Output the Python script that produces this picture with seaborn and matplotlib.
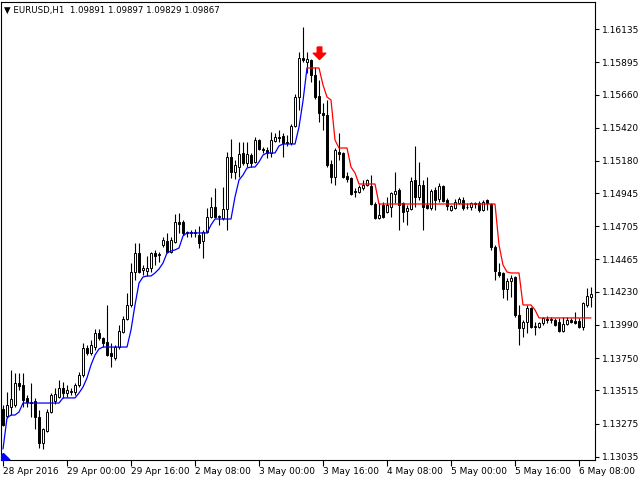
import pandas as pd
import seaborn as sns
import matplotlib.pyplot as plt
from matplotlib.path import Path

sns.set_theme(style="white")
plt.rcParams["font.family"] = ["DejaVu Sans"]

# EURUSD H1 candles, 28 Apr 2016 08:00 .. 6 May 2016 11:00
open_ = [
    1.13381, 1.13330, 1.13395, 1.13410, 1.13569, 1.13555, 1.13461, 1.13432, 1.13439, 1.13323,
    1.13134, 1.13221, 1.13359, 1.13439, 1.13468, 1.13533, 1.13497, 1.13504, 1.13504, 1.13555,
    1.13627, 1.13823, 1.13787, 1.13830, 1.13932, 1.13896, 1.13867, 1.13787, 1.13751, 1.13830,
    1.13939, 1.14033, 1.14135, 1.14374, 1.14512, 1.14389, 1.14381, 1.14403, 1.14512, 1.14497,
    1.14570, 1.14599, 1.14519, 1.14592, 1.14737, 1.14737, 1.14657, 1.14664, 1.14657, 1.14642,
    1.14599, 1.14664, 1.14773, 1.14845, 1.14773, 1.14766, 1.14831, 1.15208, 1.15099, 1.15135,
    1.15237, 1.15164, 1.15222, 1.15172, 1.15331, 1.15266, 1.15259, 1.15237, 1.15324, 1.15353,
    1.15360, 1.15309, 1.15309, 1.15433, 1.15643, 1.15926, 1.15897, 1.15911, 1.15802, 1.15650,
    1.15527, 1.15512, 1.15157, 1.15063, 1.15244, 1.15237, 1.15070, 1.15056, 1.14961, 1.14954,
    1.14983, 1.15005, 1.14998, 1.14867, 1.14766, 1.14860, 1.14809, 1.14845, 1.14940, 1.14969,
    1.14874, 1.14816, 1.14831, 1.15041, 1.14918, 1.15005, 1.14860, 1.14838, 1.14969, 1.14903,
    1.14998, 1.14896, 1.14824, 1.14838, 1.14874, 1.14896, 1.14845, 1.14845, 1.14874, 1.14874,
    1.14824, 1.14896, 1.14867, 1.14555, 1.14374, 1.14367, 1.14251, 1.14309, 1.14338, 1.14062,
    1.13968, 1.14012, 1.14113, 1.13975, 1.13975, 1.14004, 1.14033, 1.14026, 1.14026, 1.14012,
    1.13946, 1.13997, 1.14026, 1.14019, 1.14019, 1.13975, 1.14135, 1.14193,
]
high = [
    1.13410, 1.13504, 1.13664, 1.13642, 1.13642, 1.13642, 1.13482, 1.13569, 1.13461, 1.13374,
    1.13243, 1.13381, 1.13497, 1.13533, 1.13591, 1.13577, 1.13555, 1.13533, 1.13569, 1.13649,
    1.13859, 1.13845, 1.13881, 1.13961, 1.13961, 1.13903, 1.14135, 1.13859, 1.13845, 1.13990,
    1.14055, 1.14222, 1.14439, 1.14584, 1.14584, 1.14425, 1.14490, 1.14519, 1.14534, 1.14519,
    1.14628, 1.14657, 1.14628, 1.14795, 1.14802, 1.14751, 1.14671, 1.14679, 1.14686, 1.14708,
    1.14679, 1.14838, 1.14918, 1.14983, 1.14787, 1.14990, 1.15244, 1.15338, 1.15186, 1.15317,
    1.15317, 1.15317, 1.15237, 1.15353, 1.15338, 1.15280, 1.15280, 1.15389, 1.15382, 1.15404,
    1.15382, 1.15367, 1.15447, 1.15665, 1.15969, 1.16150, 1.15969, 1.15918, 1.15860, 1.15766,
    1.15599, 1.15621, 1.15186, 1.15273, 1.15382, 1.15244, 1.15099, 1.15063, 1.14983, 1.15005,
    1.15041, 1.15048, 1.15077, 1.14882, 1.14874, 1.14882, 1.14918, 1.14954, 1.15099, 1.14983,
    1.14882, 1.14860, 1.15063, 1.15288, 1.15172, 1.15041, 1.15063, 1.14976, 1.14990, 1.15019,
    1.15005, 1.14911, 1.14860, 1.14903, 1.14918, 1.14918, 1.14874, 1.14882, 1.14882, 1.14889,
    1.14896, 1.14903, 1.14874, 1.14570, 1.14439, 1.14374, 1.14331, 1.14352, 1.14345, 1.14135,
    1.14026, 1.14135, 1.14120, 1.14012, 1.14012, 1.14048, 1.14055, 1.14048, 1.14041, 1.14041,
    1.14048, 1.14048, 1.14041, 1.14084, 1.14041, 1.14157, 1.14258, 1.14265,
]
low = [
    1.13257, 1.13316, 1.13337, 1.13395, 1.13519, 1.13395, 1.13395, 1.13323, 1.13236, 1.13098,
    1.13091, 1.13214, 1.13352, 1.13417, 1.13461, 1.13461, 1.13468, 1.13482, 1.13482, 1.13540,
    1.13613, 1.13772, 1.13772, 1.13809, 1.13881, 1.13830, 1.13765, 1.13685, 1.13736, 1.13816,
    1.13932, 1.14026, 1.14120, 1.14316, 1.14367, 1.14352, 1.14345, 1.14374, 1.14425, 1.14447,
    1.14555, 1.14512, 1.14512, 1.14584, 1.14657, 1.14642, 1.14628, 1.14628, 1.14628, 1.14548,
    1.14476, 1.14657, 1.14766, 1.14766, 1.14715, 1.14751, 1.14679, 1.15056, 1.15048, 1.15063,
    1.15150, 1.15135, 1.15135, 1.15164, 1.15259, 1.15237, 1.15201, 1.15208, 1.15317, 1.15317,
    1.15208, 1.15288, 1.15295, 1.15425, 1.15549, 1.15897, 1.15817, 1.15752, 1.15628, 1.15462,
    1.15404, 1.15135, 1.15019, 1.15005, 1.15186, 1.15056, 1.15027, 1.14932, 1.14918, 1.14947,
    1.14969, 1.14998, 1.14860, 1.14758, 1.14758, 1.14766, 1.14802, 1.14773, 1.14874, 1.14679,
    1.14737, 1.14715, 1.14824, 1.14845, 1.14896, 1.14679, 1.14831, 1.14824, 1.14824, 1.14882,
    1.14882, 1.14824, 1.14816, 1.14831, 1.14867, 1.14824, 1.14831, 1.14824, 1.14838, 1.14809,
    1.14816, 1.14824, 1.14534, 1.14316, 1.14338, 1.14186, 1.14171, 1.14193, 1.14048, 1.13845,
    1.13903, 1.13932, 1.13968, 1.13917, 1.13968, 1.13990, 1.14004, 1.14004, 1.13983, 1.13939,
    1.13939, 1.13990, 1.14004, 1.13997, 1.13968, 1.13954, 1.14120, 1.14120,
]
close = [
    1.13265, 1.13410, 1.13453, 1.13569, 1.13548, 1.13446, 1.13432, 1.13424, 1.13323, 1.13134,
    1.13236, 1.13359, 1.13482, 1.13490, 1.13533, 1.13497, 1.13519, 1.13511, 1.13555, 1.13627,
    1.13823, 1.13787, 1.13845, 1.13932, 1.13896, 1.13859, 1.13772, 1.13765, 1.13830, 1.13946,
    1.14033, 1.14135, 1.14374, 1.14512, 1.14374, 1.14403, 1.14403, 1.14512, 1.14490, 1.14505,
    1.14606, 1.14519, 1.14606, 1.14737, 1.14722, 1.14657, 1.14664, 1.14657, 1.14664, 1.14584,
    1.14664, 1.14773, 1.14845, 1.14773, 1.14780, 1.14831, 1.15208, 1.15099, 1.15150, 1.15230,
    1.15164, 1.15230, 1.15164, 1.15331, 1.15266, 1.15259, 1.15237, 1.15331, 1.15353, 1.15346,
    1.15309, 1.15317, 1.15433, 1.15643, 1.15926, 1.15911, 1.15918, 1.15802, 1.15643, 1.15527,
    1.15512, 1.15150, 1.15063, 1.15259, 1.15230, 1.15063, 1.15048, 1.14940, 1.14954, 1.14990,
    1.15005, 1.15041, 1.14867, 1.14766, 1.14787, 1.14773, 1.14860, 1.14947, 1.14961, 1.14860,
    1.14809, 1.14838, 1.15034, 1.14918, 1.15005, 1.14845, 1.14838, 1.14961, 1.14896, 1.14998,
    1.14889, 1.14853, 1.14853, 1.14882, 1.14903, 1.14838, 1.14842, 1.14874, 1.14867, 1.14824,
    1.14882, 1.14874, 1.14555, 1.14381, 1.14352, 1.14251, 1.14309, 1.14331, 1.14062, 1.13968,
    1.14012, 1.14113, 1.13975, 1.13983, 1.14004, 1.14041, 1.14026, 1.14033, 1.13990, 1.13946,
    1.13997, 1.14026, 1.14012, 1.14004, 1.13975, 1.14149, 1.14200, 1.14215,
]

# trailing trend line (blue while up, red after the sell signal)
trend_level = [
    1.13091, 1.13316, 1.13337, 1.13337, 1.13359, 1.13424, 1.13424, 1.13424, 1.13424, 1.13424,
    1.13424, 1.13424, 1.13424, 1.13424, 1.13424, 1.13461, 1.13461, 1.13461, 1.13461, 1.13497,
    1.13540, 1.13606, 1.13700, 1.13772, 1.13816, 1.13830, 1.13830, 1.13830, 1.13830, 1.13830,
    1.13830, 1.13830, 1.13954, 1.14135, 1.14294, 1.14338, 1.14345, 1.14345, 1.14367, 1.14396,
    1.14439, 1.14512, 1.14526, 1.14534, 1.14548, 1.14635, 1.14657, 1.14657, 1.14657, 1.14657,
    1.14657, 1.14657, 1.14715, 1.14758, 1.14758, 1.14758, 1.14758, 1.14758, 1.14918, 1.15041,
    1.15077, 1.15128, 1.15135, 1.15135, 1.15172, 1.15222, 1.15237, 1.15237, 1.15237, 1.15288,
    1.15302, 1.15302, 1.15302, 1.15302, 1.15425, 1.15614, 1.15853, 1.15853, 1.15853, 1.15853,
    1.15730, 1.15643, 1.15621, 1.15331, 1.15273, 1.15273, 1.15273, 1.15135, 1.15092, 1.15012,
    1.15012, 1.15012, 1.15012, 1.15012, 1.14867, 1.14867, 1.14867, 1.14867, 1.14867, 1.14867,
    1.14867, 1.14867, 1.14867, 1.14867, 1.14867, 1.14867, 1.14867, 1.14867, 1.14867, 1.14867,
    1.14867, 1.14867, 1.14867, 1.14867, 1.14867, 1.14867, 1.14867, 1.14867, 1.14867, 1.14867,
    1.14867, 1.14867, 1.14867, 1.14867, 1.14570, 1.14425, 1.14374, 1.14367, 1.14367, 1.14367,
    1.14135, 1.14135, 1.14135, 1.14099, 1.14041, 1.14041, 1.14041, 1.14041, 1.14041, 1.14041,
    1.14041, 1.14041, 1.14041, 1.14041, 1.14041, 1.14041, 1.14041, 1.14041,
]
last_up_bar = 76

buy_bar, buy_price = 0, 1.13060
sell_bar, sell_price = 79, 1.15918

time_labels = [
    "28 Apr 2016", "29 Apr 00:00", "29 Apr 16:00", "2 May 08:00", "3 May 00:00",
    "3 May 16:00", "4 May 08:00", "5 May 00:00", "5 May 16:00", "6 May 08:00",
]
label_every = 16
price_ticks = [
    1.16135, 1.15895, 1.15660, 1.15420, 1.15180, 1.14945, 1.14705,
    1.14465, 1.14230, 1.13990, 1.13750, 1.13515, 1.13275, 1.13035,
]
header = "▼ EURUSD,H1  1.09891 1.09897 1.09829 1.09867"

df = pd.DataFrame({"open": open_, "high": high, "low": low, "close": close})
df["bar"] = range(len(df))
df["bull"] = df["close"] >= df["open"]

fig = plt.figure(figsize=(6.4, 4.8), dpi=100)
fig.patch.set_facecolor("white")
ax = fig.add_axes([1 / 640, 20 / 480, 594 / 640, 458 / 480])
ax.set_facecolor("white")

# wicks
ax.vlines(df["bar"], df["low"], df["high"], color="black", linewidth=0.8, zorder=2)

# bodies
bottoms = df[["open", "close"]].min(axis=1)
heights = (df["close"] - df["open"]).abs()
ax.bar(df["bar"], heights, bottom=bottoms, width=0.6,
       color=["white" if b else "black" for b in df["bull"]],
       edgecolor="black", linewidth=0.7, zorder=3)

# trend line via seaborn
up = pd.DataFrame({"bar": range(0, last_up_bar + 1),
                   "level": trend_level[:last_up_bar + 1], "trend": "up"})
down = pd.DataFrame({"bar": range(last_up_bar, len(trend_level)),
                     "level": trend_level[last_up_bar:], "trend": "down"})
line_df = pd.concat([up, down], ignore_index=True)
sns.lineplot(data=line_df, x="bar", y="level", hue="trend",
             palette={"up": "#0000ff", "down": "#ff0000"},
             estimator=None, sort=False, legend=False,
             linewidth=0.9, ax=ax, zorder=4)

# signal arrows (tip at the origin of the marker path)
down_arrow = Path([(-0.22, 1.2), (0.22, 1.2), (0.22, 0.6), (0.6, 0.6),
                   (0, 0), (-0.6, 0.6), (-0.22, 0.6), (-0.22, 1.2)])
up_arrow = Path([(x, -y) for x, y in down_arrow.vertices])
ax.plot([sell_bar], [sell_price], marker=down_arrow, markersize=18,
        color="#ff0000", linestyle="none", zorder=5)
ax.plot([buy_bar], [buy_price], marker=up_arrow, markersize=18,
        color="#0000ff", linestyle="none", zorder=5)

ax.set_xlim(-0.5, 148)
ax.set_ylim(1.13011, 1.163315)

ax.set_xticks(range(0, label_every * len(time_labels), label_every))
ax.set_xticklabels(time_labels, ha="left")
ax.set_yticks(price_ticks)
ax.set_yticklabels([f"{p:.5f}" for p in price_ticks])
ax.yaxis.tick_right()
ax.tick_params(axis="y", direction="out", length=3, width=0.8, pad=2,
               labelsize=6.5, colors="black", right=True, left=False)
ax.tick_params(axis="x", direction="out", length=4, width=0.8, pad=1,
               labelsize=6.5, colors="black", bottom=True)
ax.set_xlabel("")
ax.set_ylabel("")
ax.grid(False)
for side in ["left", "right", "top", "bottom"]:
    ax.spines[side].set_visible(True)
    ax.spines[side].set_color("black")
    ax.spines[side].set_linewidth(0.8)

fig.text(4 / 640, 1 - 10 / 480, header, fontsize=6.2, color="black",
         ha="left", va="center")

plt.savefig("out.png", dpi=100, facecolor="white")
